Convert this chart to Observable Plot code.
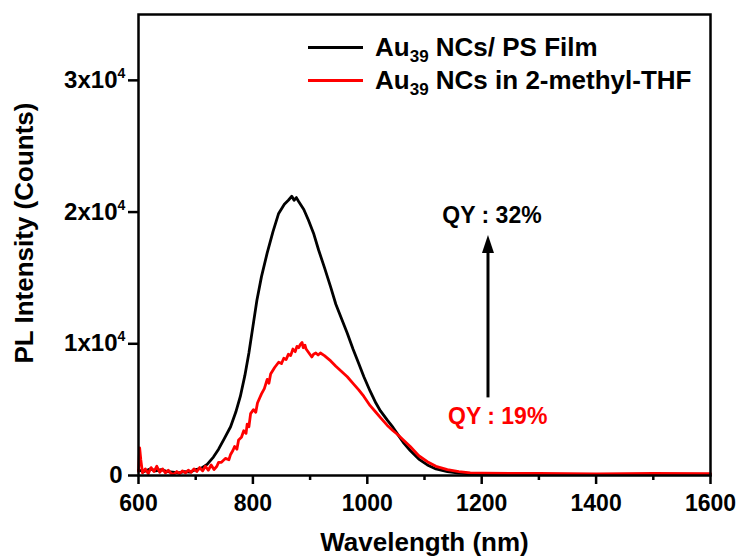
<!DOCTYPE html>
<html>
<head>
<meta charset="utf-8">
<script src="https://cdn.jsdelivr.net/npm/d3@7"></script>
<script src="https://cdn.jsdelivr.net/npm/@observablehq/plot@0.6"></script>
<style>
  html, body { margin: 0; padding: 0; background: #fff; }
  #wrap { position: relative; width: 740px; height: 559px; font-family: "Liberation Sans", Arial, sans-serif; }
  #legend { position: absolute; left: 308px; top: 31px; font-weight: bold; font-size: 26px; color: #000; }
  .row { display: flex; align-items: center; height: 33px; }
  .sw { width: 55px; height: 3.5px; margin-right: 12px; }
  .row sub { font-size: 17px; vertical-align: -6px; line-height: 0; }
</style>
</head>
<body>
<div id="wrap"><div id="legend"></div></div>
<script>
// PS film spectrum (black)
const filmWl = [600,610,620,630,640,650,660,670,680,690,700,710,720,731,740,750,761,770,778,786,793,800,807,815,825,835,845,855,862,868,872,876,880,889,897,906,915,925,936,945,955,965,975,985,994,1005,1015,1023,1035,1045,1052,1063,1075,1090,1105,1120,1140,1160,1180,1200,1250,1300,1400,1500,1600];
const filmI  = [400,300,500,350,450,300,250,200,300,250,450,550,850,1400,2000,2800,3700,4800,6000,7600,9300,11300,13300,15100,16900,18500,19900,20600,20900,21200,20900,21100,20800,20200,19400,18400,17100,15800,14300,13000,11900,10800,9600,8500,7500,6400,5500,4900,4200,3650,3200,2500,1900,1250,800,500,300,180,120,100,90,80,80,80,80];

// 2-methyl-THF solution spectrum (red)
const solWl = [600,602,604,607,612,617,622,627,632,637,642,647,652,657,662,667,672,677,682,687,692,697,702,707,712,717,722,727,732,737,740,745,752,758,761,765,768,772,775,780,784,788,790,793,796,801,805,808,812,815,820,825,828,831,838,845,850,854,858,862,866,870,874,877,880,883,886,888,891,893,898,903,906,910,914,918,925,936,945,955,965,975,985,994,1005,1015,1023,1035,1045,1052,1063,1075,1090,1105,1120,1140,1160,1180,1200,1250,1300,1400,1500,1600];
const solI  = [300,2100,1200,200,500,150,600,300,700,250,500,200,400,150,100,300,150,350,200,400,250,500,300,600,350,700,400,800,450,700,1000,1000,1300,1200,1600,1900,2200,2000,2700,2900,3400,3200,3900,3700,4700,5000,4800,5500,5900,6200,6600,7300,7000,7700,8200,8600,8500,8900,8800,9200,9100,9600,9400,9800,9700,9950,10100,9700,9900,9600,9300,9000,9200,9300,9150,9300,9100,8700,8300,7900,7500,7000,6500,6000,5300,4800,4400,3800,3400,3150,2700,2200,1500,1050,700,450,300,200,180,150,150,130,150,140,200];

const series = ["Au39 NCs/ PS Film", "Au39 NCs in 2-methyl-THF"];
const colors = ["#000000", "#ff0000"];

const xTicks = [600, 800, 1000, 1200, 1400, 1600];
const xMinor = [700, 900, 1100, 1300, 1500];
const yTicks = [0, 10000, 20000, 30000];
const yTickBase = ["0", "1x10", "2x10", "3x10"];
const yTickExp = ["", "4", "4", "4"];

// annotations
const qyText = ["QY : 32%", "QY : 19%"];
const qyX = [1218, 1228];
const qyY = [19740, 4440];
const arrowX = 1211;
const arrowFrom = 5930;
const arrowTo = 17100;
const arrowHead = 17570;

const film = filmWl.map((w, i) => ({w, v: filmI[i]}));
const sol = solWl.map((w, i) => ({w, v: solI[i]}));
const qy = qyText.map((t, i) => ({t, x: qyX[i], y: qyY[i], c: colors[i]}));
const yLab = yTicks.map((v, i) => ({v, base: yTickBase[i], exp: yTickExp[i]}));

const headSymbol = {
  draw(ctx) {
    ctx.moveTo(0, -9);
    ctx.lineTo(6, 9);
    ctx.lineTo(-6, 9);
    ctx.closePath();
  }
};

const font = "Liberation Sans, Arial, sans-serif";

const chart = Plot.plot({
  width: 740,
  height: 559,
  marginLeft: 138,
  marginRight: 30,
  marginTop: 14,
  marginBottom: 84,
  style: {fontFamily: font, fontWeight: "bold", color: "#000", background: "#fff"},
  x: {domain: [600, 1600]},
  y: {domain: [0, 35000]},
  marks: [
    Plot.line(film, {x: "w", y: "v", stroke: colors[0], strokeWidth: 2.8}),
    Plot.line(sol, {x: "w", y: "v", stroke: colors[1], strokeWidth: 2.8}),
    Plot.link([0], {x1: arrowX, x2: arrowX, y1: arrowFrom, y2: arrowTo, stroke: "#000", strokeWidth: 3}),
    Plot.dot([0], {x: arrowX, y: arrowHead, symbol: headSymbol, fill: "#000", stroke: "none"}),
    Plot.text(qy, {x: "x", y: "y", text: "t", fill: "c", fontSize: 23, fontWeight: "bold"}),
    Plot.axisX({ticks: xTicks, tickSize: 9, tickPadding: 10, tickFormat: d => String(d), fontSize: 23, strokeWidth: 2.5, label: null}),
    Plot.axisX({ticks: xMinor, tickSize: 5, tickFormat: () => "", strokeWidth: 2.5, label: null}),
    Plot.axisY({ticks: yTicks, tickSize: 10, tickFormat: () => "", strokeWidth: 2.5, label: null}),
    Plot.text(yLab.filter(d => d.exp === ""), {frameAnchor: "left", y: "v", text: "base", textAnchor: "end", dx: -16, fontSize: 24, fontWeight: "bold", fill: "#000"}),
    Plot.text(yLab.filter(d => d.exp !== ""), {frameAnchor: "left", y: "v", text: "base", textAnchor: "end", dx: -21, fontSize: 24, fontWeight: "bold", fill: "#000"}),
    Plot.text(yLab.filter(d => d.exp !== ""), {frameAnchor: "left", y: "v", text: "exp", textAnchor: "start", dx: -21, dy: -7, fontSize: 14, fontWeight: "bold", fill: "#000"}),
    Plot.text(["Wavelength (nm)"], {frameAnchor: "bottom", dy: 75, fontSize: 26, fontWeight: "bold", fill: "#000"}),
    Plot.text(["PL Intensity (Counts)"], {frameAnchor: "left", textAnchor: "middle", dx: -114, dy: -12, rotate: -90, fontSize: 26, fontWeight: "bold", fill: "#000"}),
    Plot.frame({stroke: "#000", strokeWidth: 2.5})
  ]
});
const wrap = document.getElementById("wrap");
wrap.insertBefore(chart, wrap.firstChild);

const legend = document.getElementById("legend");
series.forEach((s, i) => {
  const row = document.createElement("div");
  row.className = "row";
  const sw = document.createElement("span");
  sw.className = "sw";
  sw.style.background = colors[i];
  const label = document.createElement("span");
  const m = s.match(/^(Au)(39)(.*)$/);
  label.innerHTML = m[1] + "<sub>" + m[2] + "</sub>" + m[3].replace(/ /g, "&nbsp;");
  row.appendChild(sw);
  row.appendChild(label);
  legend.appendChild(row);
});
</script>
</body>
</html>
